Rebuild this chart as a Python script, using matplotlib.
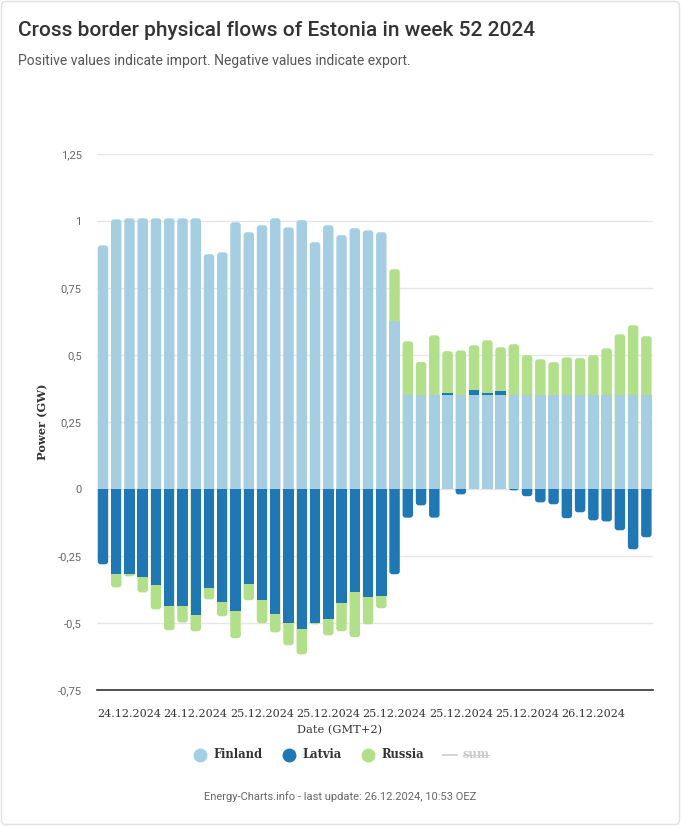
import matplotlib
matplotlib.use("Agg")
import matplotlib.pyplot as plt
import numpy as np
from matplotlib.patches import FancyBboxPatch, Rectangle
from matplotlib.lines import Line2D

# ---- data ----
finland = [0.909, 1.006, 1.010, 1.010, 1.010, 1.010, 1.010, 1.010, 0.876, 0.883,
           0.995, 0.958, 0.984, 1.010, 0.976, 1.003, 0.921, 0.984, 0.947, 0.973,
           0.965, 0.958, 0.626, 0.352, 0.352, 0.352, 0.352, 0.352, 0.352, 0.352,
           0.352, 0.352, 0.352, 0.352, 0.352, 0.352, 0.352, 0.352, 0.352, 0.352,
           0.352, 0.352]
latvia = [-0.281, -0.317, -0.317, -0.328, -0.358, -0.437, -0.437, -0.470, -0.371, -0.422,
          -0.455, -0.354, -0.414, -0.466, -0.500, -0.522, -0.500, -0.485, -0.425, -0.384,
          -0.403, -0.399, -0.318, -0.107, -0.061, -0.107, 0.008, -0.020, 0.019, 0.008,
          0.012, -0.005, -0.027, -0.050, -0.057, -0.109, -0.087, -0.117, -0.121, -0.154,
          -0.225, -0.180]
russia = [0.0, -0.050, -0.009, -0.058, -0.091, -0.090, -0.061, -0.061, -0.041, -0.053,
          -0.102, -0.061, -0.087, -0.069, -0.083, -0.095, -0.005, -0.061, -0.106, -0.169,
          -0.102, -0.046, 0.194, 0.199, 0.122, 0.221, 0.154, 0.165, 0.165, 0.195,
          0.165, 0.188, 0.147, 0.132, 0.121, 0.139, 0.136, 0.147, 0.173, 0.225,
          0.259, 0.218]
series_names = ["Finland", "Latvia", "Russia"]
colors = ["#a6cee3", "#1f78b4", "#b2df8a"]
x_tick_idx = [2, 7, 12, 17, 22, 27, 32, 37]
x_tick_labels = ["24.12.2024", "24.12.2024", "25.12.2024", "25.12.2024",
                 "25.12.2024", "25.12.2024", "25.12.2024", "26.12.2024"]
y_ticks = [-0.75, -0.5, -0.25, 0, 0.25, 0.5, 0.75, 1, 1.25]
y_tick_labels = ["-0,75", "-0,5", "-0,25", "0", "0,25", "0,5", "0,75", "1", "1,25"]

W, H = 681, 826
fig = plt.figure(figsize=(W / 100, H / 100), dpi=100)
fig.patch.set_facecolor("white")

# outer light frame
fig.add_artist(FancyBboxPatch((1.5 / W, 1.5 / H), (W - 3) / W, (H - 3) / H,
                              boxstyle="round,pad=0,rounding_size=0.006",
                              transform=fig.transFigure, fill=False,
                              edgecolor="#e0e0e0", linewidth=1.0))

ax_l, ax_r, ax_t, ax_b = 97, 653, 154, 690
ax = fig.add_axes([ax_l / W, 1 - ax_b / H, (ax_r - ax_l) / W, (ax_b - ax_t) / H])
xlim = (-0.45, 41.5)
ylim = (-0.75, 1.25)
ax.set_xlim(*xlim)
ax.set_ylim(*ylim)

x = np.arange(len(finland))
data = [np.array(finland), np.array(latvia), np.array(russia)]
width = 0.79

# rounding radius (~3 px) in data units
px_x = (xlim[1] - xlim[0]) / (ax_r - ax_l)
px_y = (ylim[1] - ylim[0]) / (ax_b - ax_t)
r_x = 3.0 * px_x
aspect = px_y / px_x
r_y = r_x * aspect

for i in x:
    for sign in (1, -1):
        segs = []
        base = 0.0
        for vals, col in zip(data, colors):
            v = vals[i]
            if v * sign > 0:
                segs.append((base, v, col))
                base += v
        if not segs:
            continue
        total = base
        outer_col = segs[-1][2]
        # rounded full-length bar in outer colour, clipped to its side of zero
        if sign > 0:
            y0, h = -2 * r_y, total + 2 * r_y
            clip = Rectangle((i - 1, 0), 2, 5, transform=ax.transData)
        else:
            y0, h = total, -total + 2 * r_y
            clip = Rectangle((i - 1, -5), 2, 5, transform=ax.transData)
        p = FancyBboxPatch((i - width / 2, y0), width, h,
                           boxstyle=f"round,pad=0,rounding_size={r_x}",
                           mutation_aspect=aspect, facecolor=outer_col,
                           edgecolor="none", linewidth=0, zorder=3)
        ax.add_patch(p)
        p.set_clip_path(clip)
        for b, v, col in segs[:-1]:
            ax.add_patch(Rectangle((i - width / 2, b), width, v, facecolor=col,
                                   edgecolor="none", linewidth=0, zorder=4))

ax.set_yticks(y_ticks)
ax.set_yticklabels(y_tick_labels, fontsize=8, color="#666666", family="Roboto")
ax.grid(axis="y", color="#e6e6e6", linewidth=1, zorder=0)
ax.set_axisbelow(True)
ax.tick_params(axis="y", length=0, pad=11)
ax.set_xticks(x_tick_idx)
ax.set_xticklabels(x_tick_labels, fontsize=8, color="#333333", family="DejaVu Serif")
ax.tick_params(axis="x", length=0, pad=14)
for s in ["top", "right", "left"]:
    ax.spines[s].set_visible(False)
ax.spines["bottom"].set_color("#333333")
ax.spines["bottom"].set_linewidth(1.2)
ax.spines["bottom"].set_zorder(5)

ax.set_ylabel("Power (GW)", fontsize=8.2, fontweight="bold", color="#333333",
              family="DejaVu Serif", labelpad=6.5)

fig.text(340 / W, 1 - 730 / H, "Date (GMT+2)", ha="center", va="center",
         fontsize=8.2, color="#333333", family="DejaVu Serif")

# title / subtitle
fig.text(18 / W, 1 - 31 / H, "Cross border physical flows of Estonia in week 52 2024",
         ha="left", va="center", fontsize=15, fontweight="medium", color="#333333",
         family="Roboto")
fig.text(18 / W, 1 - 61 / H, "Positive values indicate import. Negative values indicate export.",
         ha="left", va="center", fontsize=10, color="#555555", family="Roboto")

# legend
ly = 1 - 755 / H
for (mx, tx, name, col) in [(200, 213, "Finland", colors[0]),
                            (289, 302, "Latvia", colors[1]),
                            (368, 381, "Russia", colors[2])]:
    fig.add_artist(Line2D([mx / W], [ly], marker="o", markersize=9, color=col,
                          linestyle="none", transform=fig.transFigure))
    fig.text(tx / W, ly, name, ha="left", va="center", fontsize=8.3, fontweight="bold",
             color="#333333", family="DejaVu Serif")
fig.add_artist(Line2D([443 / W, 457 / W], [ly, ly], color="#cccccc", linewidth=1.2,
                      transform=fig.transFigure))
fig.text(463 / W, ly, "sum", ha="left", va="center", fontsize=8.3, fontweight="bold",
         color="#cccccc", family="DejaVu Serif")
fig.add_artist(Line2D([463 / W, 489 / W], [ly, ly], color="#cccccc", linewidth=0.8,
                      transform=fig.transFigure))

fig.text(340 / W, 1 - 797 / H, "Energy-Charts.info - last update: 26.12.2024, 10:53 OEZ",
         ha="center", va="center", fontsize=8, color="#666666", family="Roboto")

fig.savefig("out.png", dpi=100)
